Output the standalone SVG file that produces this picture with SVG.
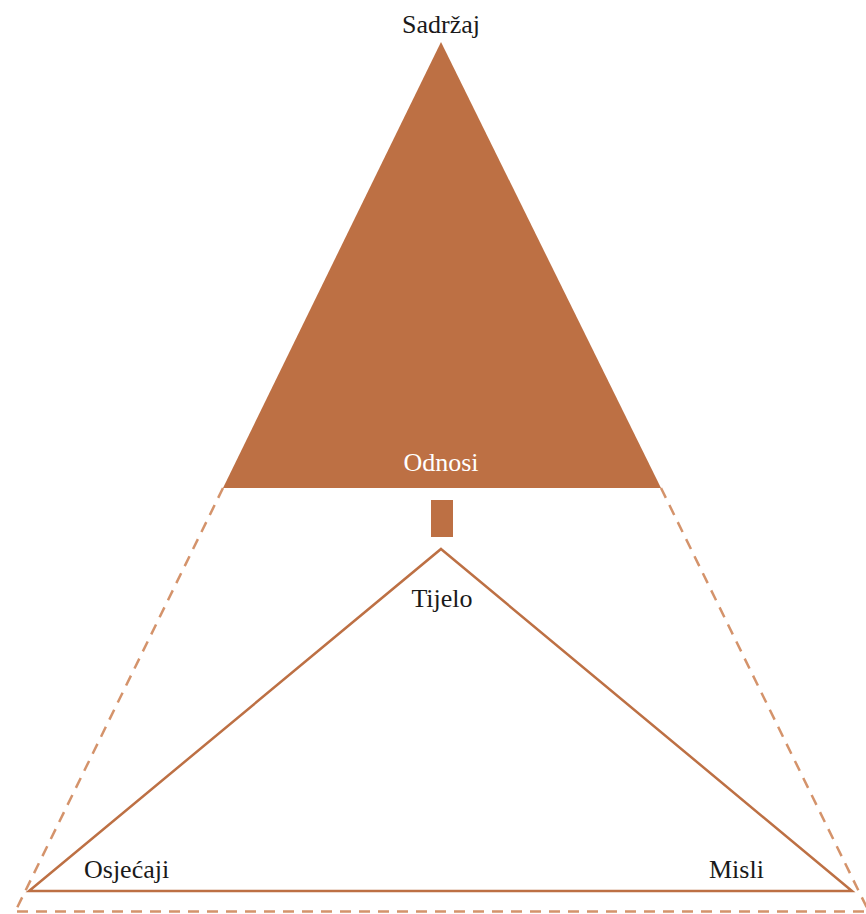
<svg xmlns="http://www.w3.org/2000/svg" width="866" height="914" viewBox="0 0 866 914">
<style>
.lbl{font-family:"Liberation Serif","Times New Roman",serif;font-size:26px;fill:#1a1a1a}
.w{fill:#ffffff}
.fill{fill:#BD7044}
.line{stroke:#BD7044;stroke-width:2.5;fill:none}
.dash{stroke:#D4936B;stroke-width:2.5;fill:none;stroke-dasharray:11 8}
</style>
<rect width="866" height="914" fill="#ffffff"/>
<g id="connectors">
<line class="dash" x1="223" y1="488" x2="15" y2="912"/>
<line class="dash" x1="661" y1="488" x2="869" y2="912"/>
<line class="dash" x1="17" y1="911.5" x2="866" y2="911.5"/>
</g>
<g id="sadrzaj">
<polygon class="fill" points="441,42 661,488 223,488"/>
<text class="lbl" x="441" y="33" text-anchor="middle">Sadržaj</text>
<text class="lbl w" x="441" y="471" text-anchor="middle">Odnosi</text>
</g>
<g id="connector-block">
<rect class="fill" x="431" y="500" width="22" height="37"/>
</g>
<g id="tijelo">
<polygon class="line" points="441,549 852,891 29,891"/>
<text class="lbl" x="442" y="607" text-anchor="middle">Tijelo</text>
</g>
<g id="osjecaji">
<text class="lbl" x="84" y="878">Osjećaji</text>
</g>
<g id="misli">
<text class="lbl" x="709" y="878">Misli</text>
</g>
</svg>
